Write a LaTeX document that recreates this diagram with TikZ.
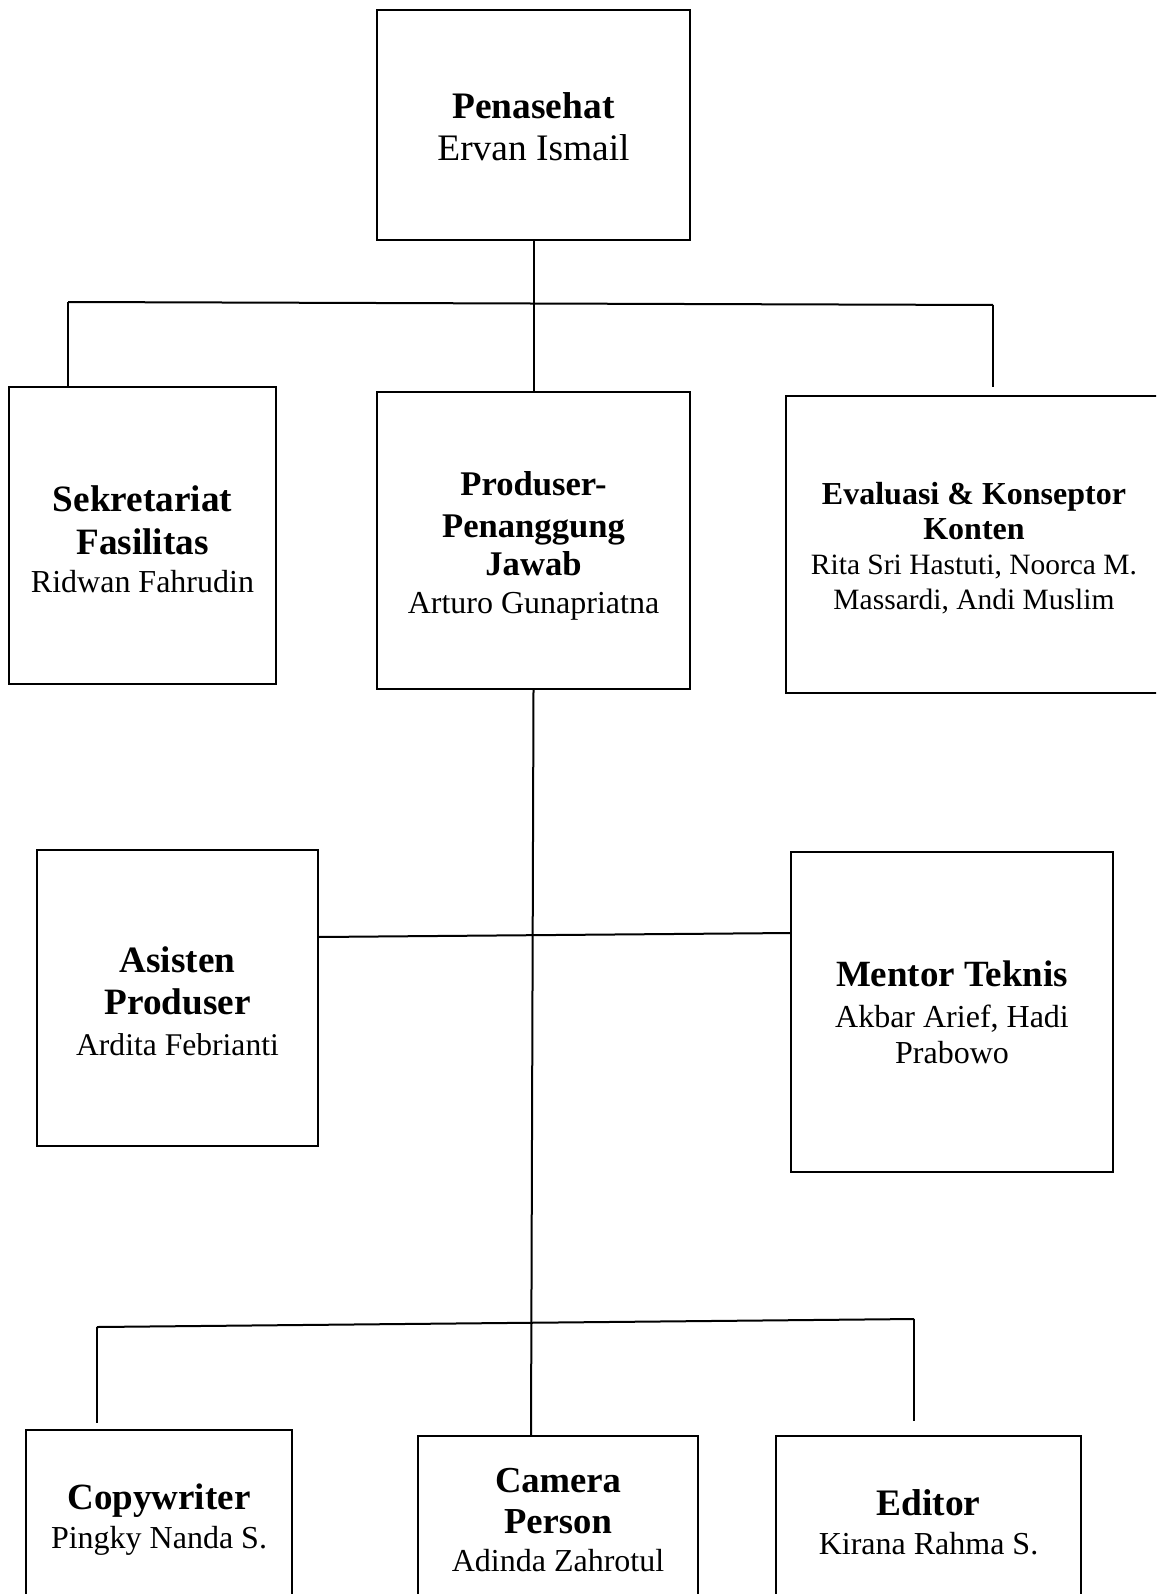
\documentclass[tikz,border=0pt]{standalone}
\usepackage{fontspec}
\setmainfont{Liberation Serif}
\newcommand{\topgap}[1]{\rule{0pt}{\dimexpr 0.7em+#1\relax}}
\begin{document}
\begin{tikzpicture}[x=0.5pt,y=-0.5pt,
  box/.style={draw, line width=1pt, inner sep=0pt, align=center},
  conn/.style={line width=1pt}]
\useasboundingbox (0,0) rectangle (1156,1594);
\clip (0,0) rectangle (1156,1594);
% top
\node[box, minimum width=156.5pt, minimum height=115pt, font=\fontsize{18.7}{21}\selectfont] (pen) at (533.5,125)
  {\topgap{2pt}\textbf{Penasehat}\\Ervan Ismail};
% second row
\node[box, minimum width=133.5pt, minimum height=148.5pt, font=\fontsize{18.6}{21.5}\selectfont] (sek) at (142.5,535.5)
  {\topgap{4pt}\textbf{Sekretariat}\\\textbf{Fasilitas}\\[-2.5pt]{\fontsize{16}{18}\selectfont Ridwan Fahrudin}};
\node[box, minimum width=156.5pt, minimum height=148.5pt, font=\fontsize{17.3}{19}\selectfont] (pro) at (533.5,540.5)
  {\topgap{5pt}\textbf{Produser-}\\[2pt]\textbf{Penanggung}\\\textbf{Jawab}\\{\fontsize{16}{18}\selectfont Arturo Gunapriatna}};
\node[box, minimum width=188pt, minimum height=148.5pt, font=\fontsize{14.75}{17.5}\selectfont] (eva) at (974,544.5)
  {\topgap{4pt}{\fontsize{16}{18}\selectfont\bfseries Evaluasi \& Konseptor}\\{\fontsize{16}{18}\selectfont\bfseries Konten}\\Rita Sri Hastuti, Noorca M.\\Massardi, Andi Muslim};
% third row
\node[box, minimum width=140.5pt, minimum height=148pt, font=\fontsize{18.6}{21}\selectfont] (asi) at (177.5,998)
  {\topgap{3pt}\textbf{Asisten}\\\textbf{Produser}\\[-0.5pt]{\fontsize{15.8}{18}\selectfont Ardita Febrianti}};
\node[box, minimum width=161pt, minimum height=160pt, font=\fontsize{16}{18}\selectfont] (men) at (952,1012)
  {{\fontsize{18.5}{21}\selectfont\bfseries Mentor Teknis}\\[2.5pt]Akbar Arief, Hadi\\Prabowo};
% bottom row
\node[box, minimum width=133pt, minimum height=86pt, font=\fontsize{18.5}{19.5}\selectfont] (cop) at (159,1516)
  {\topgap{3pt}\textbf{Copywriter}\\{\fontsize{16}{18}\selectfont Pingky Nanda S.}};
\node[box, minimum width=140pt, minimum height=84pt, font=\fontsize{18.3}{20.5}\selectfont] (cam) at (558,1520)
  {\textbf{Camera}\\\textbf{Person}\\[-1.5pt]{\fontsize{16}{18}\selectfont Adinda Zahrotul}};
\node[box, minimum width=152.5pt, minimum height=86pt, font=\fontsize{18.7}{19.5}\selectfont] (edi) at (928.5,1522)
  {\textbf{Editor}\\{\fontsize{16}{18}\selectfont Kirana Rahma S.}};
% connector points
\coordinate (tl) at (68,302);
\coordinate (tr) at (993,305);
\coordinate (trd) at (993,387);
\coordinate (ml) at (318,937);
\coordinate (mr) at (791,933);
\coordinate (vb) at (531,1436);
\coordinate (bl) at (97,1327);
\coordinate (bld) at (97,1423);
\coordinate (br) at (914,1319);
\coordinate (brd) at (914,1421);
% connectors
\draw[conn] (pen.south) -- (pen.south |- pro.north);
\draw[conn] (tl) -- (tr);
\draw[conn] (tl) -- (tl |- sek.north);
\draw[conn] (tr) -- (trd);
\draw[conn] (pro.south) -- (vb);
\draw[conn] (ml) -- (mr);
\draw[conn] (bl) -- (br);
\draw[conn] (bl) -- (bld);
\draw[conn] (br) -- (brd);
\end{tikzpicture}
\end{document}
